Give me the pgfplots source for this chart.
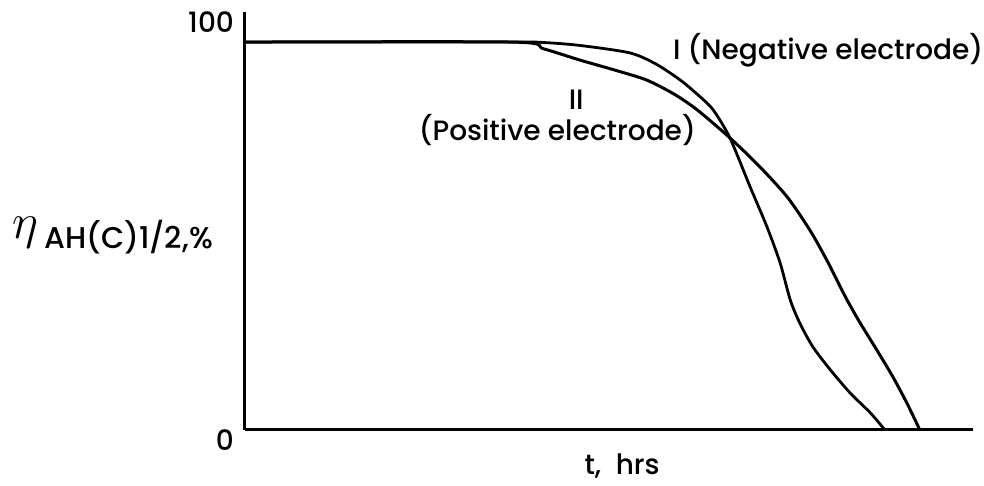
\documentclass[border=0pt]{standalone}
\usepackage{pgfplots}
\pgfplotsset{compat=1.18}
\usepackage{fontspec}
\setmainfont{Poppins Medium}

\begin{document}
\begin{tikzpicture}
% page frame: 984 x 486 px at 0.5pt per px, axis box corner at (0,0)
\useasboundingbox (-122.5pt,-28pt) rectangle (369.5pt,215pt);
\begin{axis}[
    at={(0,0)}, anchor=south west,
    scale only axis,
    width=364pt, height=209pt,
    xmin=0, xmax=100, ymin=0, ymax=100,
    axis lines=left,
    axis line style={-, line width=1.5pt},
    xtick=\empty,
    ytick={0,100},
    major tick length=0pt,
    /pgf/number format/assume math mode=true,
    yticklabel style={font=\fontsize{14}{14}\selectfont, yshift=-5pt, xshift=-2pt},
    clip=false,
    ]
% curve I (negative electrode)
\addplot[black, line width=1.4pt, smooth, tension=0.45] coordinates {
    (0,92.8) (36.5,92.8) (41,92.7) (46,92.0) (52.9,90.2)
    (56.5,87.5) (59.8,83.7) (62.2,80.2) (64.3,76.6) (66.6,69.9)
    (69.4,58.1) (71.7,48.6) (73.5,40.0) (74.9,31.1) (76.2,25.6)
    (78.0,19.9) (80.4,14.4) (83.1,8.9) (85.9,4.1) (87.9,0)
};
% curve II (positive electrode)
\addplot[black, line width=1.5pt, smooth, tension=0.45] coordinates {
    (0,92.8) (36.8,92.8) (41,91.2) (46,88.5) (51,86.0) (55.2,83.7)
    (59,80.3) (62.1,76.6) (66.6,69.9) (70.7,63.0) (74.5,55.7)
    (77.6,47.8) (79.9,40.7) (81.3,35.9) (82.7,31.1) (84.5,25.6)
    (86.8,19.1) (89.0,12.7) (90.9,6.5) (92.7,0)
};
\node[font=\fontsize{14}{14}\selectfont] at (axis cs:80.1,90.9) {I (Negative electrode)};
\node[font=\fontsize{14}{14}\selectfont] at (axis cs:45.5,78.9) {II};
\node[font=\fontsize{14}{14}\selectfont] at (axis cs:42.9,71.8) {(Positive electrode)};
\node[font=\fontsize{14}{14}\selectfont] at (axis cs:51.8,-8.7) {t,\ \ hrs};
\node[anchor=west, inner sep=0pt] at (axis cs:-32.0,46.5)
    {{\fontsize{24}{24}\selectfont$\eta$}\hspace{3pt}\raisebox{-5pt}{\fontsize{15}{15}\selectfont AH(C)1/2,\%}};
\end{axis}
\end{tikzpicture}
\end{document}
